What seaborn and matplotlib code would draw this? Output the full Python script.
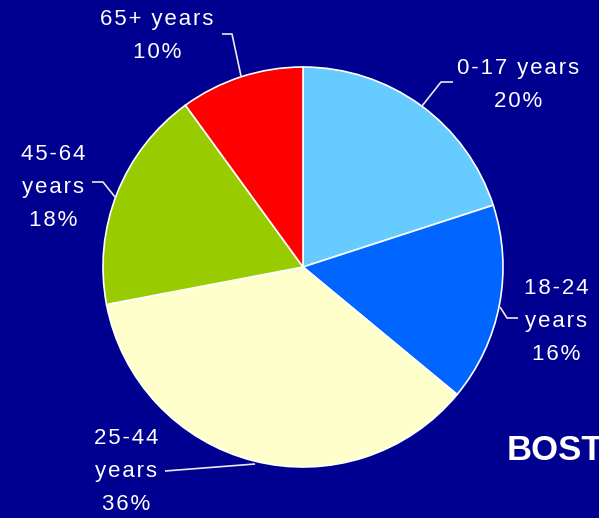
import matplotlib
matplotlib.use("Agg")
import matplotlib.pyplot as plt
import seaborn as sns

# age groups and their share of the population (%)
age_groups = ["0-17", "18-24", "25-44", "45-64", "65+"]
shares = [20, 16, 36, 18, 10]
slice_colors = ["#66CCFF", "#0066FF", "#FFFFCC", "#99CC00", "#FF0000"]

sns.set_theme(style="white")
plt.rcParams['font.family'] = ['Liberation Sans', 'DejaVu Sans']

bg = "#000090"
W, H = 599, 518
HS = "\u200a"  # hair space


def spaced(s):
    # fake letter spacing like the original slide
    return (HS + " " + HS).join(HS.join(w) for w in s.split(" "))


fig = plt.figure(figsize=(W / 100, H / 100), dpi=100, facecolor=bg)
ax = fig.add_axes([0, 0, 1, 1])
ax.set_facecolor(bg)

ax.pie(shares, colors=slice_colors, startangle=90, counterclock=False,
       center=(303, H - 267), radius=200,
       wedgeprops=dict(edgecolor="white", linewidth=1.2))
ax.set_xlim(0, W)
ax.set_ylim(0, H)
ax.set_aspect("equal")
ax.axis("off")

# label text (pixel positions from the slide, y measured from top)
label_lines = {
    "0-17": [f"{age_groups[0]} years", f"{shares[0]}%"],
    "18-24": [age_groups[1], "years", f"{shares[1]}%"],
    "25-44": [age_groups[2], "years", f"{shares[2]}%"],
    "45-64": [age_groups[3], "years", f"{shares[3]}%"],
    "65+": [f"{age_groups[4]} years", f"{shares[4]}%"],
}
label_pos = {
    "0-17": (518, 85),
    "18-24": (556, 321),
    "25-44": (126, 472),
    "45-64": (53, 188),
    "65+": (157, 36),
}
for g in age_groups:
    x, y = label_pos[g]
    txt = "\n".join(spaced(l) for l in label_lines[g])
    ax.text(x, H - y, txt, color="white", fontsize=16, ha="center", va="center",
            multialignment="center", linespacing=1.75)

# leader lines
leaders = [
    [(222, 34), (232, 34), (241, 76)],
    [(453, 82), (441, 82), (422, 106)],
    [(518, 318), (507, 318), (500, 307)],
    [(92, 182), (103, 182), (115, 197)],
    [(165, 471), (255, 464)],
]
for pts in leaders:
    ax.plot([p[0] for p in pts], [H - p[1] for p in pts], color="#E8E8F0", lw=1.2,
            solid_capstyle="butt")

ax.text(507, H - 450, "BOSTON", color="white", fontsize=25, fontweight="bold",
        ha="left", va="center")

fig.savefig("out.png", dpi=100, facecolor=bg)
